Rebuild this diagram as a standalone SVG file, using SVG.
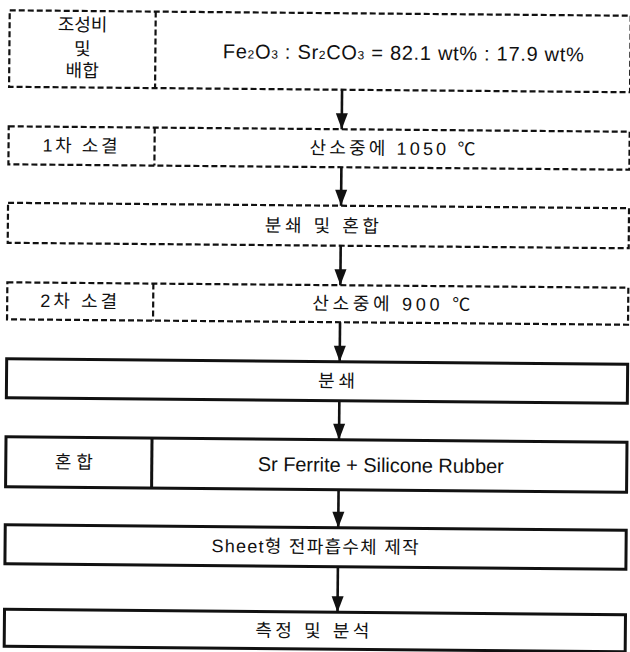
<svg xmlns="http://www.w3.org/2000/svg" width="630" height="652" viewBox="0 0 630 652">
<style>
  .dash { fill: none; stroke: #111; stroke-width: 2.2; stroke-dasharray: 6 3; }
  .solid { fill: none; stroke: #111; stroke-width: 3; }
  .conn { stroke: #111; stroke-width: 2.6; fill: none; }
  text { font-family: "Liberation Sans", "Noto Sans CJK KR", sans-serif; font-size: 18px; fill: #111; dominant-baseline: central; }
  .lat { font-size: 20px; }
  .base { dominant-baseline: alphabetic; }
  .sub { font-size: 12px; }
</style>
<defs>
  <marker id="arr" markerUnits="userSpaceOnUse" markerWidth="18" markerHeight="14" viewBox="0 0 18 14" refX="17" refY="7" orient="auto">
    <polygon points="1,1 17,7 1,13" fill="#111"/>
  </marker>
</defs>
<rect width="630" height="652" fill="#fff"/>
<g transform="rotate(0.5 315 326)">
  <g id="n1">
    <rect class="dash" x="7" y="13" width="621" height="76.5"/>
    <line class="dash" x1="153" y1="13" x2="153" y2="89.5"/>
    <text x="80" y="27" text-anchor="middle">조성비</text>
    <text x="80" y="51" text-anchor="middle">및</text>
    <text x="80" y="73" text-anchor="middle">배합</text>
    <text class="lat base" x="220.5" y="59" textLength="361">Fe<tspan class="sub">2</tspan>O<tspan class="sub">3</tspan> : Sr<tspan class="sub">2</tspan>CO<tspan class="sub">3</tspan> = 82.1 wt% : 17.9 wt%</text>
  </g>
  <g id="n2">
    <rect class="dash" x="7" y="129" width="621" height="38"/>
    <line class="dash" x1="153" y1="129" x2="153" y2="167"/>
    <text x="41" y="148" textLength="75">1차 소결</text>
    <text x="308" y="148" textLength="166">산소중에 1050 ℃</text>
  </g>
  <g id="n3">
    <rect class="dash" x="7" y="205.5" width="621" height="40"/>
    <text x="264" y="226" textLength="114">분쇄 및 혼합</text>
  </g>
  <g id="n4">
    <rect class="dash" x="7" y="285" width="621" height="37"/>
    <line class="dash" x1="153" y1="285" x2="153" y2="322"/>
    <text x="40" y="303.5" textLength="77">2차 소결</text>
    <text x="312" y="303.5" textLength="158">산소중에 900 ℃</text>
  </g>
  <g id="n5">
    <rect class="solid" x="7" y="361.5" width="621" height="39"/>
    <text x="318.5" y="381" textLength="37">분쇄</text>
  </g>
  <g id="n6">
    <rect class="solid" x="7" y="439.5" width="621" height="50"/>
    <line class="solid" x1="153" y1="439.5" x2="153" y2="489.5"/>
    <text x="56" y="464.5" textLength="38">혼합</text>
    <text class="lat" x="259" y="464.5" textLength="246">Sr Ferrite + Silicone Rubber</text>
  </g>
  <g id="n7">
    <rect class="solid" x="7" y="527.5" width="621" height="39"/>
    <text x="213.5" y="547" textLength="207">Sheet형 전파흡수체 제작</text>
  </g>
  <g id="n8">
    <rect class="solid" x="7" y="612" width="621" height="37"/>
    <text x="258" y="631" textLength="114">측정 및 분석</text>
  </g>
  <g id="connectors">
    <line class="conn" x1="340" y1="89.5" x2="340" y2="129" marker-end="url(#arr)"/>
    <line class="conn" x1="340" y1="167" x2="340" y2="205.5" marker-end="url(#arr)"/>
    <line class="conn" x1="340" y1="245.5" x2="340" y2="285" marker-end="url(#arr)"/>
    <line class="conn" x1="340" y1="322" x2="340" y2="361.5" marker-end="url(#arr)"/>
    <line class="conn" x1="340" y1="400.5" x2="340" y2="439.5" marker-end="url(#arr)"/>
    <line class="conn" x1="340" y1="489.5" x2="340" y2="527.5" marker-end="url(#arr)"/>
    <line class="conn" x1="340" y1="566.5" x2="340" y2="612" marker-end="url(#arr)"/>
  </g>
</g>
</svg>
